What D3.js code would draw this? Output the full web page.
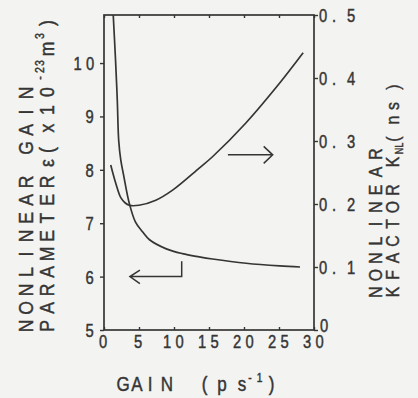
<!DOCTYPE html>
<html>
<head>
<meta charset="utf-8">
<script src="https://cdn.jsdelivr.net/npm/d3@7"></script>
<style>
  html, body { margin: 0; padding: 0; background: #f3f3f1; }
  svg { display: block; }
  text { font-family: "Liberation Sans", Arial, Helvetica, sans-serif; white-space: pre; }
</style>
</head>
<body>
<svg id="chart" width="418" height="398"></svg>
<script>
// Gain (ps^-1), shared horizontal axis
const gainTicks = [0, 5, 10, 15, 20, 25, 30];

// Nonlinear gain parameter ε (x10^-23 m^3), left axis
const epsGain  = [1.3, 1.65, 1.9, 2.1, 2.4, 2.8, 3.6, 4.5, 5.5, 6.5, 8.9, 11.2, 13.6, 15.5, 20.3, 25.1, 28.0];
const epsValue = [10.95, 10.05, 9.3, 8.55, 8.18, 7.9, 7.38, 7.02, 6.84, 6.69, 6.52, 6.43, 6.37, 6.33, 6.25, 6.2, 6.18];
const epsTicks = [5, 6, 7, 8, 9, 10];

// Nonlinear K factor K_NL (ns), right axis
const kGain  = [0.96, 1.68, 2.4, 3.0, 3.6, 5.0, 7.4, 9.8, 13.6, 15.5, 20.3, 25.1, 28.45];
const kValue = [0.262, 0.233, 0.210, 0.202, 0.198, 0.198, 0.206, 0.222, 0.257, 0.275, 0.329, 0.392, 0.440];
const kTicks = [0, 0.1, 0.2, 0.3, 0.4, 0.5];

const ink = "#353535";
const L = 104, R = 314, T = 15, B = 330;

const svg = d3.select("#chart");
svg.append("rect").attr("width", 418).attr("height", 398).attr("fill", "#f3f3f1");

const x  = d3.scaleLinear().domain([0, 30]).range([L, R]);
const yL = d3.scaleLinear().domain([5, 10.9]).range([B, T]);
const yR = d3.scaleLinear().domain([0, 0.5]).range([B, T]);

// Condensed, letter-spaced lettering: every glyph gets its own centre.
function inked(sel) {
  return sel.attr("fill", ink).attr("stroke", ink).attr("stroke-width", 0.45);
}
function glyphs(textSel, str, centers, size, sx) {
  inked(textSel.text(str)
    .attr("transform", `scale(${sx},1)`)
    .attr("text-anchor", "middle")
    .attr("font-size", size)
    .attr("x", centers.map(c => (c / sx).toFixed(2)).join(" ")));
  return textSel;
}
function titleRun(parent, parts, sx) {
  const t = inked(parent.append("text")
    .attr("transform", `scale(${sx},1)`)
    .attr("text-anchor", "middle"));
  parts.forEach(p => {
    t.append("tspan")
      .attr("x", p.c.map(c => (c / sx).toFixed(2)).join(" "))
      .attr("y", p.y || 0)
      .attr("font-size", p.size)
      .text(p.t);
  });
  return t;
}
function styleAxis(g) {
  g.attr("font-size", null).attr("font-family", null).attr("fill", null);
  g.select(".domain").remove();
  g.selectAll("line").attr("stroke", ink).attr("stroke-width", 1.4);
}

// Bottom axis
const gx = svg.append("g").attr("transform", `translate(0,${B})`)
  .call(d3.axisBottom(x).tickValues(gainTicks).tickSize(-3).tickFormat(d3.format("d")));
styleAxis(gx);
gx.selectAll("text").each(function (d) {
  const s = d3.format("d")(d);
  const c = s.length === 1 ? [-1.5] : [-7.5, 5];
  glyphs(d3.select(this), s, c, 18, 0.82).attr("y", 18).attr("dy", null);
});

// Top axis (ticks only)
const gt = svg.append("g").attr("transform", `translate(0,${T})`)
  .call(d3.axisTop(x).tickValues(gainTicks).tickSize(-3).tickFormat(""));
styleAxis(gt);

// Left axis: ε
const gl = svg.append("g").attr("transform", `translate(${L},0)`)
  .call(d3.axisLeft(yL).tickValues(epsTicks).tickSize(4).tickFormat(d3.format("d")));
styleAxis(gl);
gl.selectAll("text").each(function (d) {
  const s = d3.format("d")(d);
  const c = s.length === 1 ? [-14.5] : [-26.5, -14];
  glyphs(d3.select(this), s, c, 18, 0.82).attr("dy", "0.36em");
});

// Right axis: K_NL
const gr = svg.append("g").attr("transform", `translate(${R},0)`)
  .call(d3.axisRight(yR).tickValues(kTicks).tickSize(4).tickFormat(d3.format(".1~f")));
styleAxis(gr);
gr.selectAll("text").each(function (d) {
  const s = d3.format(".1~f")(d);
  const c = s.length === 1 ? [10] : [9, 20, 37];
  glyphs(d3.select(this), s, c, 18, 0.82).attr("dy", "0.36em");
  if (d === 0) d3.select(this).attr("y", -5);
});

// Plot frame
svg.append("rect")
  .attr("x", L).attr("y", T).attr("width", R - L).attr("height", B - T)
  .attr("fill", "none").attr("stroke", ink).attr("stroke-width", 1.7);

svg.append("clipPath").attr("id", "plot-clip")
  .append("rect").attr("x", L).attr("y", T).attr("width", R - L).attr("height", B - T);

const plot = svg.append("g").attr("clip-path", "url(#plot-clip)");

const epsLine = d3.line().x(d => x(d[0])).y(d => yL(d[1])).curve(d3.curveCatmullRom.alpha(0.5));
const kLine   = d3.line().x(d => x(d[0])).y(d => yR(d[1])).curve(d3.curveCatmullRom.alpha(0.5));

plot.append("path")
  .datum(d3.zip(epsGain, epsValue))
  .attr("d", epsLine)
  .attr("fill", "none").attr("stroke", ink).attr("stroke-width", 1.7);

plot.append("path")
  .datum(d3.zip(kGain, kValue))
  .attr("d", kLine)
  .attr("fill", "none").attr("stroke", ink).attr("stroke-width", 1.7);

// Arrow pointing to the right-hand axis (K_NL curve)
{
  const x0 = x(17.7), x1 = x(24.1), y0 = yR(0.278);
  svg.append("path")
    .attr("d", `M${x0},${y0}H${x1}M${x1 - 9},${y0 - 8.5}L${x1},${y0}L${x1 - 9},${y0 + 8.5}`)
    .attr("fill", "none").attr("stroke", ink).attr("stroke-width", 1.5);
}
// Arrow pointing to the left-hand axis (ε curve)
{
  const xs = x(11.1), xt = x(3.7), yTop = yL(6.29), y0 = yL(6.0);
  svg.append("path")
    .attr("d", `M${xs},${yTop}V${y0}H${xt}M${xt + 10},${y0 - 6.5}L${xt},${y0}L${xt + 10},${y0 + 7}`)
    .attr("fill", "none").attr("stroke", ink).attr("stroke-width", 1.5);
}

// Bottom title: GAIN (ps^-1)
titleRun(svg.append("g").attr("transform", "translate(0,391)"), [
  { t: "GAIN (ps", c: [123, 137, 150, 167, 185, 204.5, 222, 242], size: 20 },
  { t: "-1", c: [250, 259.5], y: -9, size: 12 },
  { t: ")", c: [271.5], y: 0, size: 20 }
], 0.85);

// Left titles (rotated, reading upward); x-list holds -screenY
const neg = a => a.map(v => -v);
titleRun(svg.append("g").attr("transform", "translate(33,0) rotate(-90)"), [
  { t: "NONLINEAR GAIN", c: neg([326, 308, 290, 272, 254, 236, 218, 200, 182, 165, 148, 130, 112, 93]), size: 20 }
], 0.88);
titleRun(svg.append("g").attr("transform", "translate(54,0) rotate(-90)"), [
  { t: "PARAMETER ε(x10", c: neg([326, 308, 290, 272, 254, 236, 218, 200, 182, 172, 163, 150, 128, 110, 92]), size: 20 },
  { t: "-23", c: neg([78, 70, 63]), y: -10, size: 12 },
  { t: "m", c: neg([49]), y: 0, size: 20 },
  { t: "3", c: neg([36]), y: -10, size: 12 },
  { t: ")", c: neg([23]), y: 0, size: 20 }
], 0.88);

// Right titles
titleRun(svg.append("g").attr("transform", "translate(382,0) rotate(-90)"), [
  { t: "NONLINEAR", c: neg([292, 275, 258, 241, 224, 207, 190, 172, 154]), size: 18 }
], 0.88);
titleRun(svg.append("g").attr("transform", "translate(399,0) rotate(-90)"), [
  { t: "KFACTOR K", c: neg([292, 275, 258, 241, 224, 207, 190, 176, 162]), size: 18 },
  { t: "NL", c: neg([151, 145]), y: 4, size: 10 },
  { t: "( ns )", c: neg([139, 131, 120, 106, 96, 87]), y: 0, size: 18 }
], 0.88);
</script>
</body>
</html>
